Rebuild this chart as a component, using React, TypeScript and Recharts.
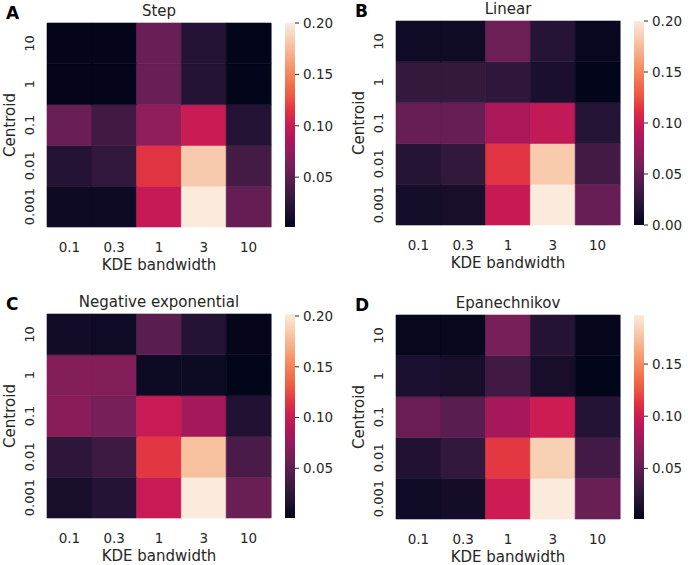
import React from 'react';
import { BarChart, Bar, XAxis, YAxis, Cell, Label } from 'recharts';

const bandwidths = ['0.1', '0.3', '1', '3', '10'];
// rows listed bottom to top, as they stack
const centroids = ['0.001', '0.01', '0.1', '1', '10'];

// each row: one value per bandwidth; row order follows centroids
const stepValues = [
  [0.008, 0.008, 0.098, 0.2, 0.053],
  [0.02, 0.027, 0.115, 0.183, 0.037],
  [0.055, 0.035, 0.073, 0.1, 0.02],
  [0.002, 0.002, 0.055, 0.02, 0.0015],
  [0.002, 0.002, 0.055, 0.02, 0.0015],
];
const linearValues = [
  [0.01, 0.012, 0.098, 0.2, 0.053],
  [0.02, 0.027, 0.114, 0.183, 0.035],
  [0.053, 0.053, 0.085, 0.095, 0.02],
  [0.028, 0.028, 0.025, 0.013, 0.0],
  [0.007, 0.007, 0.055, 0.02, 0.003],
];
const negExpValues = [
  [0.013, 0.02, 0.1, 0.202, 0.055],
  [0.025, 0.033, 0.117, 0.18, 0.04],
  [0.07, 0.062, 0.1, 0.083, 0.018],
  [0.068, 0.068, 0.007, 0.007, 0.001],
  [0.01, 0.008, 0.048, 0.02, 0.002],
];
const epanValues = [
  [0.009, 0.011, 0.1, 0.197, 0.054],
  [0.018, 0.028, 0.115, 0.183, 0.036],
  [0.055, 0.047, 0.082, 0.1, 0.02],
  [0.015, 0.013, 0.035, 0.013, 0.0015],
  [0.004, 0.004, 0.06, 0.02, 0.003],
];

const colorbarTicks = [0, 0.05, 0.1, 0.15, 0.2];

// seaborn "rocket" anchors, evenly spaced
const rocketStops = [
  '#03051a', '#1c1030', '#35193e', '#521c4c', '#701f57', '#8e1d5b', '#ad1759',
  '#cb1b54', '#e13342', '#ed5a44', '#f37651', '#f5966d', '#f6b48f', '#f8d0b4', '#faebdd',
];

const TEXT = '#262626';
const FONT = '"DejaVu Sans", sans-serif';

function hexToRgb(h: string) {
  return [1, 3, 5].map((i) => parseInt(h.slice(i, i + 2), 16));
}

function rocket(t: number) {
  const c = Math.max(0, Math.min(1, t)) * (rocketStops.length - 1);
  const i = Math.min(Math.floor(c), rocketStops.length - 2);
  const f = c - i;
  const a = hexToRgb(rocketStops[i]);
  const b = hexToRgb(rocketStops[i + 1]);
  const m = a.map((v, k) => Math.round(v + (b[k] - v) * f));
  return `rgb(${m[0]},${m[1]},${m[2]})`;
}

const RotTick = (props: any) => {
  const { x, y, payload } = props;
  const idx = Math.round(payload.value - 0.5);
  return (
    <text x={x} y={y} transform={`rotate(-90, ${x}, ${y})`} textAnchor="middle" fill={TEXT} fontSize={13} fontFamily={FONT}>
      {centroids[idx]}
    </text>
  );
};

function Heatmap({ values, vmin, vmax }: { values: number[][]; vmin: number; vmax: number }) {
  const data = bandwidths.map((bw) => {
    const row: any = { bw };
    centroids.forEach((_, r) => (row['r' + r] = 1));
    return row;
  });
  return (
    <BarChart width={280} height={282} data={data} margin={{ top: 23, right: 9, bottom: 0, left: 0 }} barCategoryGap={0} barGap={0}>
      <XAxis dataKey="bw" height={55} interval={0} tickLine={false} axisLine={false} tickSize={0} tickMargin={15}
        tick={{ fill: TEXT, fontSize: 13.5, fontFamily: FONT }}>
        <Label content={(p: any) => {
          const vb = p.viewBox;
          return <text x={vb.x + vb.width / 2} y={vb.y + 43} textAnchor="middle" fill={TEXT} fontSize={15} fontFamily={FONT}>KDE bandwidth</text>;
        }} />
      </XAxis>
      <YAxis type="number" domain={[0, 5]} ticks={[0.5, 1.5, 2.5, 3.5, 4.5]} width={47} tickLine={false} axisLine={false}
        tickSize={0} tickMargin={13} tick={<RotTick />}>
        <Label content={(p: any) => {
          const vb = p.viewBox;
          const cx = vb.x + 15;
          const cy = vb.y + vb.height / 2;
          return <text x={cx} y={cy} transform={`rotate(-90, ${cx}, ${cy})`} textAnchor="middle" fill={TEXT} fontSize={15} fontFamily={FONT}>Centroid</text>;
        }} />
      </YAxis>
      {centroids.map((_, r) => (
        <Bar key={r} dataKey={'r' + r} stackId="a" isAnimationActive={false}>
          {bandwidths.map((_, c) => {
            const col = rocket((values[r][c] - vmin) / (vmax - vmin));
            return <Cell key={c} fill={col} stroke={col} strokeWidth={0.6} />;
          })}
        </Bar>
      ))}
    </BarChart>
  );
}

function Colorbar({ vmin, vmax, id }: { vmin: number; vmax: number; id: string }) {
  const ticks = colorbarTicks.filter((t) => t >= vmin - 1e-9 && t <= vmax + 1e-9);
  return (
    <BarChart width={60} height={282} data={[{ k: 'c', range: [vmin, vmax] }]} margin={{ top: 23, right: 0, bottom: 55, left: 0 }} barCategoryGap={0}>
      <defs>
        <linearGradient id={id} x1="0" y1="1" x2="0" y2="0">
          {rocketStops.map((c, i) => (
            <stop key={i} offset={i / (rocketStops.length - 1)} stopColor={c} />
          ))}
        </linearGradient>
      </defs>
      <XAxis dataKey="k" hide />
      <YAxis orientation="right" type="number" domain={[vmin, vmax]} ticks={ticks} width={50} allowDataOverflow
        axisLine={false} tickSize={4} tickMargin={4} tickLine={{ stroke: TEXT }}
        tickFormatter={(v: number) => v.toFixed(2)} tick={{ fill: TEXT, fontSize: 13.5, fontFamily: FONT }} />
      <Bar dataKey="range" fill={`url(#${id})`} isAnimationActive={false} />
    </BarChart>
  );
}

function Panel({ letter, title, values, left, top, id }: any) {
  const flat = values.flat();
  const vmin = Math.min(...flat);
  const vmax = Math.max(...flat);
  return (
    <div style={{ position: 'absolute', left, top, width: 340, height: 282 }}>
      <div style={{ position: 'absolute', left: 0, top: 0 }}>
        <Heatmap values={values} vmin={vmin} vmax={vmax} />
      </div>
      <div style={{ position: 'absolute', left: 285, top: 0 }}>
        <Colorbar vmin={vmin} vmax={vmax} id={id} />
      </div>
      <div style={{ position: 'absolute', left: 47, top: 2, width: 224, textAlign: 'center', fontSize: 15, lineHeight: '18px', color: TEXT }}>
        {title}
      </div>
      <div style={{ position: 'absolute', left: 6, top: 3, fontSize: 17, fontWeight: 'bold', lineHeight: '20px', color: '#000' }}>
        {letter}
      </div>
    </div>
  );
}

export default function App() {
  return (
    <div style={{ position: 'absolute', left: 0, top: 0, width: 688, height: 565, background: '#fff', fontFamily: FONT, overflow: 'hidden' }}>
      <Panel letter="A" title="Step" values={stepValues} left={0} top={0} id="cbA" />
      <Panel letter="B" title="Linear" values={linearValues} left={349} top={-2} id="cbB" />
      <Panel letter="C" title="Negative exponential" values={negExpValues} left={0} top={291} id="cbC" />
      <Panel letter="D" title="Epanechnikov" values={epanValues} left={349} top={292} id="cbD" />
    </div>
  );
}
